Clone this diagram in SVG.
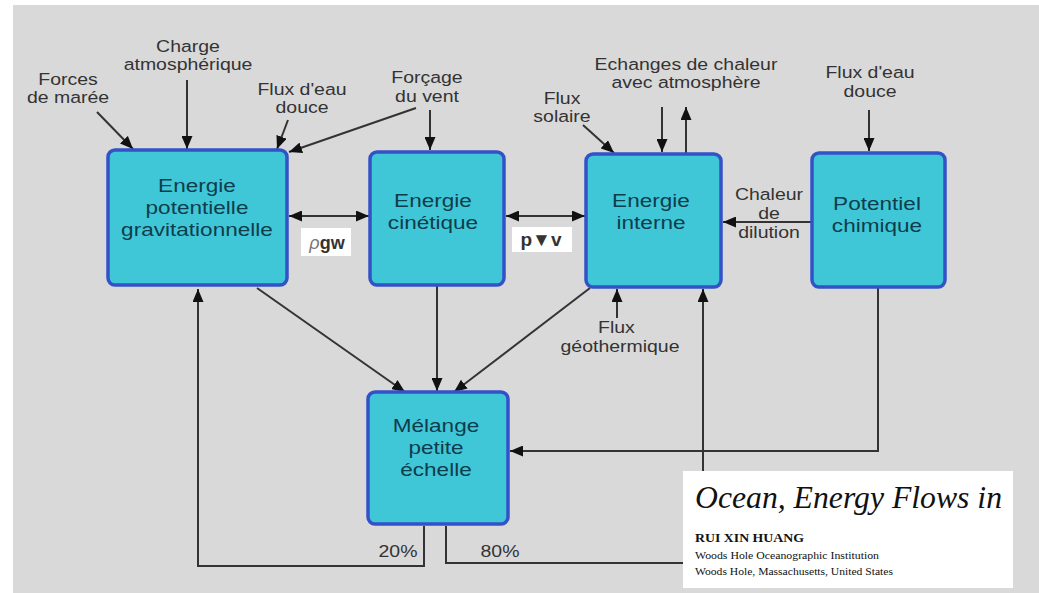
<svg xmlns="http://www.w3.org/2000/svg" width="1039" height="593" viewBox="0 0 1039 593">
<style>
.box{fill:#3fc7d8;stroke:#3352c8;stroke-width:3.5}
.bt{font-family:"Liberation Sans",Arial,sans-serif;font-size:18.5px;fill:#0f3d4c;text-anchor:middle}
.lb{font-family:"Liberation Sans",Arial,sans-serif;font-size:16.5px;fill:#333;text-anchor:middle}
.ln{fill:none;stroke:#333;stroke-width:2}
.ref{font-family:"Liberation Serif","Times New Roman",serif;fill:#111}
</style>
<defs>
<marker id="ah" markerUnits="userSpaceOnUse" markerWidth="13" markerHeight="11" refX="13" refY="5.5" orient="auto-start-reverse">
<path d="M0,0 L13,5.5 L0,11 z" fill="#111"/>
</marker>
</defs>
<rect x="0" y="0" width="1039" height="593" fill="#fff"/>
<rect x="13" y="5" width="1026" height="588" fill="#d9d9d9"/>

<g id="labels">
<g transform="translate(68,0) scale(1.18,1)"><text class="lb"><tspan x="0" y="85">Forces</tspan><tspan x="0" y="103">de marée</tspan></text></g>
<g transform="translate(188,0) scale(1.18,1)"><text class="lb"><tspan x="0" y="52">Charge</tspan><tspan x="0" y="70">atmosphérique</tspan></text></g>
<g transform="translate(302,0) scale(1.18,1)"><text class="lb"><tspan x="0" y="95">Flux d'eau</tspan><tspan x="0" y="113">douce</tspan></text></g>
<g transform="translate(427,0) scale(1.18,1)"><text class="lb"><tspan x="0" y="83">Forçage</tspan><tspan x="0" y="102">du vent</tspan></text></g>
<g transform="translate(562,0) scale(1.18,1)"><text class="lb"><tspan x="0" y="104">Flux</tspan><tspan x="0" y="122">solaire</tspan></text></g>
<g transform="translate(686,0) scale(1.18,1)"><text class="lb"><tspan x="0" y="70">Echanges de chaleur</tspan><tspan x="0" y="88">avec atmosphère</tspan></text></g>
<g transform="translate(870,0) scale(1.18,1)"><text class="lb"><tspan x="0" y="78">Flux d'eau</tspan><tspan x="0" y="97">douce</tspan></text></g>
<g transform="translate(769,0) scale(1.18,1)"><text class="lb"><tspan x="0" y="200">Chaleur</tspan><tspan x="0" y="219">de</tspan><tspan x="0" y="238">dilution</tspan></text></g>
<g transform="translate(620,0) scale(1.18,1)"><text class="lb"><tspan x="-3" y="333">Flux</tspan><tspan x="0" y="352">géothermique</tspan></text></g>
<g transform="translate(398,0) scale(1.18,1)"><text class="lb"><tspan x="0" y="557">20%</tspan></text></g>
<g transform="translate(500,0) scale(1.18,1)"><text class="lb"><tspan x="0" y="557">80%</tspan></text></g>
</g>

<g id="connectors">
<line class="ln" x1="97" y1="112" x2="133" y2="149" marker-end="url(#ah)"/>
<line class="ln" x1="187" y1="80" x2="187" y2="149" marker-end="url(#ah)"/>
<line class="ln" x1="288" y1="120" x2="277" y2="149" marker-end="url(#ah)"/>
<line class="ln" x1="416" y1="108" x2="289" y2="152" marker-end="url(#ah)"/>
<line class="ln" x1="430" y1="110" x2="430" y2="150" marker-end="url(#ah)"/>
<line class="ln" x1="289" y1="216" x2="369" y2="216" marker-start="url(#ah)" marker-end="url(#ah)"/>
<line class="ln" x1="506" y1="216" x2="585" y2="216" marker-start="url(#ah)" marker-end="url(#ah)"/>
<line class="ln" x1="583" y1="125" x2="614" y2="153" marker-end="url(#ah)"/>
<line class="ln" x1="662" y1="107" x2="662" y2="152" marker-end="url(#ah)"/>
<line class="ln" x1="686" y1="154" x2="686" y2="107" marker-end="url(#ah)"/>
<line class="ln" x1="869" y1="110" x2="869" y2="151" marker-end="url(#ah)"/>
<line class="ln" x1="811" y1="222" x2="723" y2="222" marker-end="url(#ah)"/>
<line class="ln" x1="617" y1="318" x2="617" y2="289" marker-end="url(#ah)"/>
<line class="ln" x1="257" y1="288" x2="405" y2="392" marker-end="url(#ah)"/>
<line class="ln" x1="437" y1="286" x2="437" y2="391" marker-end="url(#ah)"/>
<line class="ln" x1="590" y1="288" x2="454" y2="392" marker-end="url(#ah)"/>
<polyline class="ln" points="878,288 878,451 510,451" marker-end="url(#ah)"/>
<polyline class="ln" points="424,526 424,566 198,566 198,289" marker-end="url(#ah)"/>
<polyline class="ln" points="446,526 446,563 703,563 703,289" marker-end="url(#ah)"/>
</g>

<g id="label-rhogw">
<rect x="301" y="228" width="50" height="28" fill="#fff"/>
<text x="327" y="249" font-family="'Liberation Sans',Arial,sans-serif" font-size="18" font-weight="bold" fill="#333" text-anchor="middle"><tspan font-style="italic" font-weight="normal" fill="#777">ρ</tspan>gw</text>
</g>
<g id="label-pvv">
<rect x="512" y="227" width="60" height="25" fill="#fff"/>
<text x="541" y="246" font-family="'Liberation Sans','DejaVu Sans',sans-serif" font-size="19" font-weight="bold" fill="#333" text-anchor="middle">p▼v</text>
</g>

<g id="node-gravitationnelle">
<rect class="box" x="108" y="150" width="179" height="135" rx="7"/>
<g transform="translate(197,0) scale(1.22,1)"><text class="bt"><tspan x="0" y="192">Energie</tspan><tspan x="0" y="214">potentielle</tspan><tspan x="0" y="236">gravitationnelle</tspan></text></g>
</g>
<g id="node-cinetique">
<rect class="box" x="370" y="152" width="134" height="133" rx="7"/>
<g transform="translate(433,0) scale(1.22,1)"><text class="bt"><tspan x="0" y="207">Energie</tspan><tspan x="0" y="229">cinétique</tspan></text></g>
</g>
<g id="node-interne">
<rect class="box" x="586" y="154" width="135" height="133" rx="7"/>
<g transform="translate(651,0) scale(1.22,1)"><text class="bt"><tspan x="0" y="207">Energie</tspan><tspan x="0" y="229">interne</tspan></text></g>
</g>
<g id="node-chimique">
<rect class="box" x="812" y="153" width="133" height="134" rx="7"/>
<g transform="translate(877,0) scale(1.22,1)"><text class="bt"><tspan x="0" y="210">Potentiel</tspan><tspan x="0" y="232">chimique</tspan></text></g>
</g>
<g id="node-melange">
<rect class="box" x="368" y="392" width="140" height="132" rx="7"/>
<g transform="translate(436,0) scale(1.22,1)"><text class="bt"><tspan x="0" y="432">Mélange</tspan><tspan x="0" y="454">petite</tspan><tspan x="0" y="476">échelle</tspan></text></g>
</g>

<g id="reference">
<rect x="683" y="471" width="330" height="117" fill="#fff"/>
<text class="ref" x="695" y="508" font-size="31" font-style="italic" textLength="307" lengthAdjust="spacingAndGlyphs">Ocean, Energy Flows in</text>
<text class="ref" x="695" y="542" font-size="13" font-weight="bold" textLength="109" lengthAdjust="spacingAndGlyphs">RUI XIN HUANG</text>
<text class="ref" x="695" y="559" font-size="10" textLength="184" lengthAdjust="spacingAndGlyphs">Woods Hole Oceanographic Institution</text>
<text class="ref" x="695" y="575" font-size="10" textLength="198" lengthAdjust="spacingAndGlyphs">Woods Hole, Massachusetts, United States</text>
</g>
</svg>
